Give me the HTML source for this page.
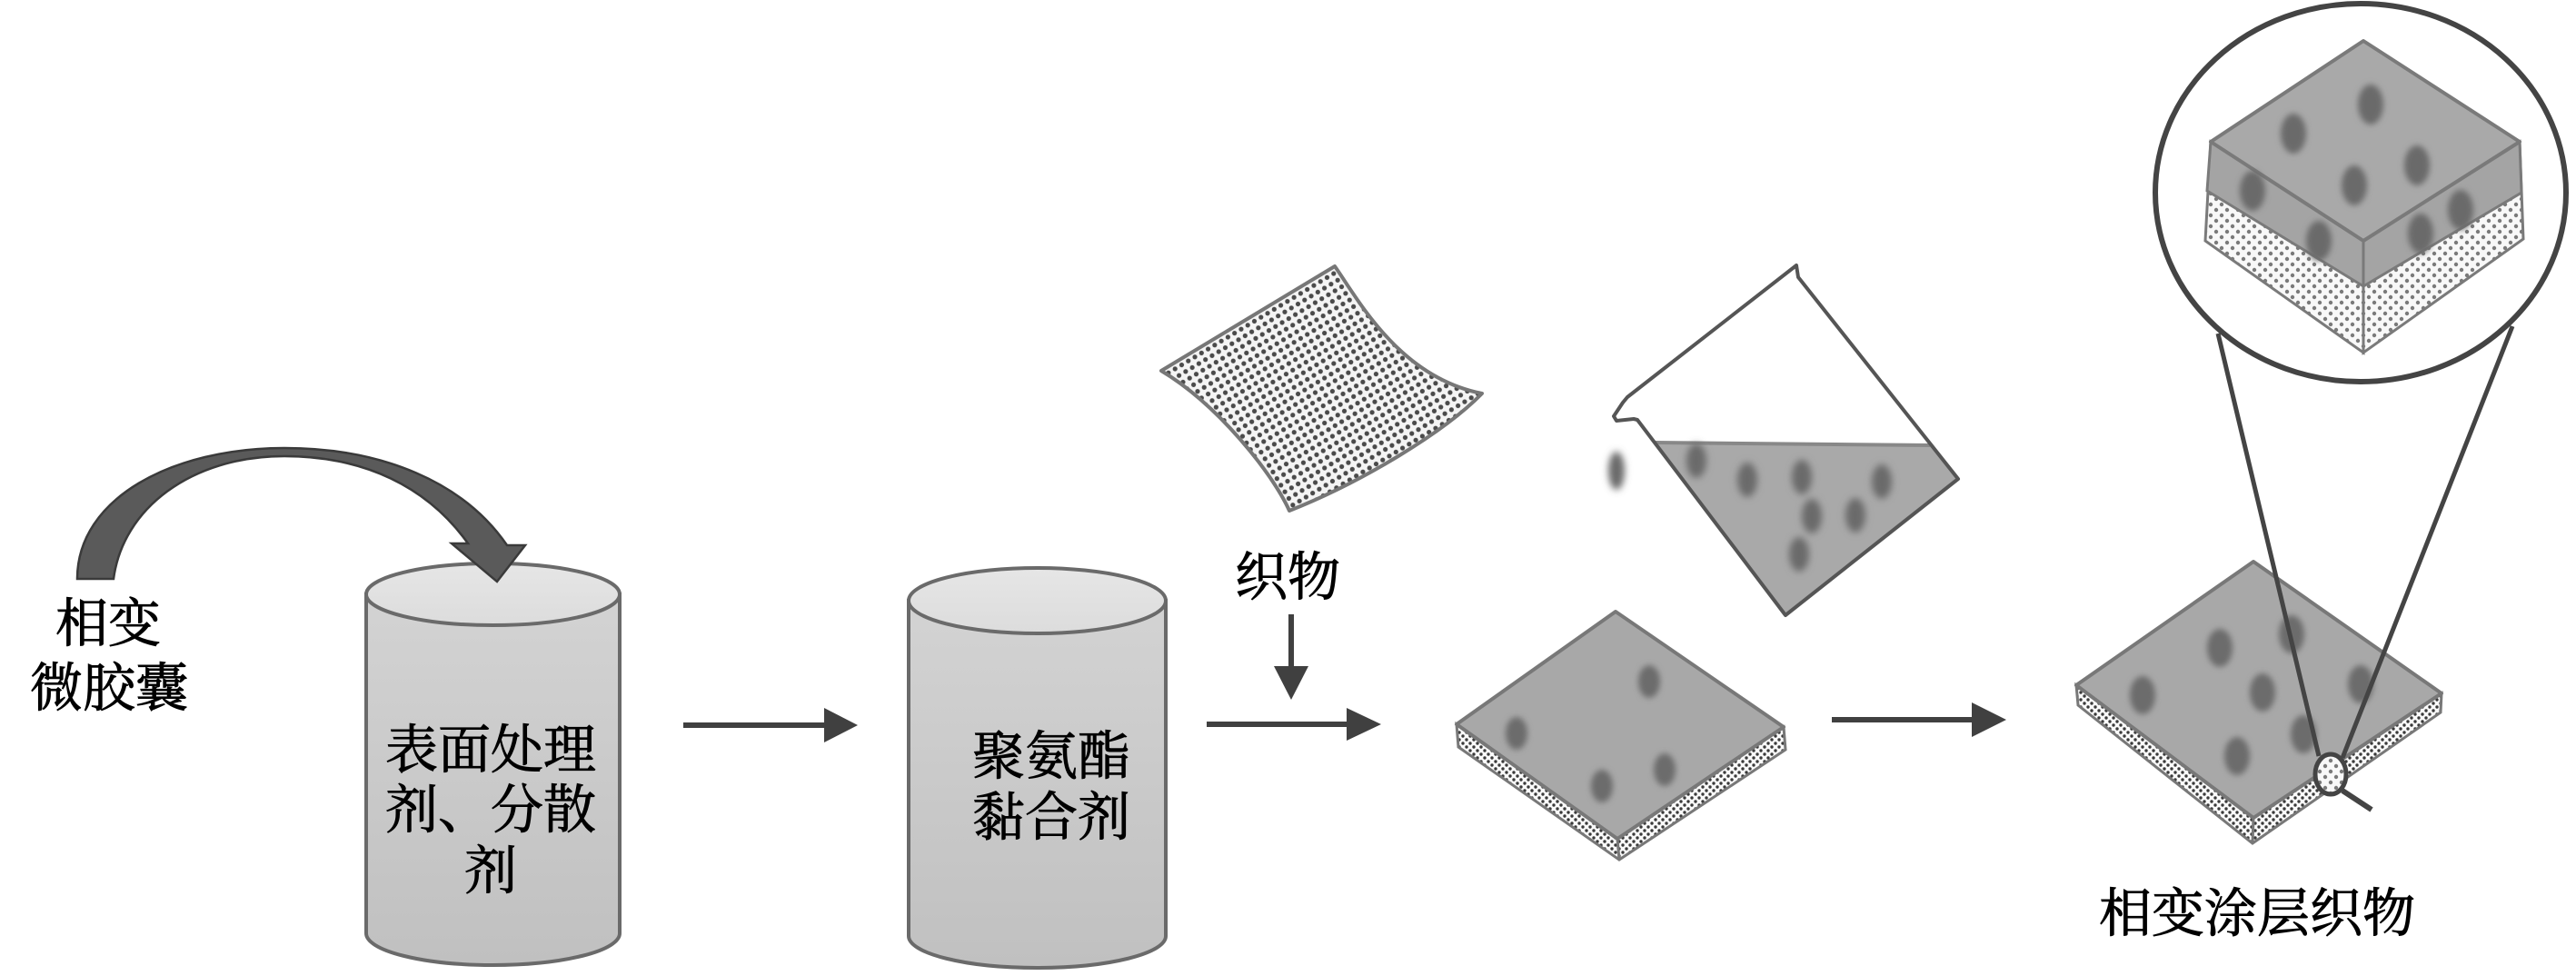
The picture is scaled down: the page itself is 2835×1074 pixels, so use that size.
<!DOCTYPE html>
<html>
<head>
<meta charset="utf-8">
<style>
  html,body{margin:0;padding:0;background:#fff;}
  svg{display:block;}
  text{font-family:"Liberation Serif","Noto Serif CJK SC","Noto Sans CJK SC",serif;font-size:58px;fill:#000;stroke:#000;stroke-width:0.9px;text-anchor:middle;}
</style>
</head>
<body>
<svg width="2835" height="1074" viewBox="0 0 2835 1074" xmlns="http://www.w3.org/2000/svg">
  <defs>
    <linearGradient id="cylBody" x1="0" y1="0" x2="0" y2="1">
      <stop offset="0" stop-color="#d3d3d3"/>
      <stop offset="1" stop-color="#c0c0c0"/>
    </linearGradient>
    <linearGradient id="cylTop" x1="0" y1="0" x2="0" y2="1">
      <stop offset="0" stop-color="#e6e6e6"/>
      <stop offset="1" stop-color="#dcdcdc"/>
    </linearGradient>
    <pattern id="dots" width="12" height="12" patternUnits="userSpaceOnUse" patternTransform="rotate(14)">
      <rect width="12" height="12" fill="#f4f4f4"/>
      <circle cx="3" cy="3" r="2.6" fill="#4a4a4a"/>
      <circle cx="9" cy="9" r="2.6" fill="#4a4a4a"/>
    </pattern>
    <pattern id="dots2" width="8" height="8" patternUnits="userSpaceOnUse">
      <rect width="8" height="8" fill="#fafafa"/>
      <circle cx="2" cy="2" r="1.7" fill="#3a3a3a"/>
      <circle cx="6" cy="6" r="1.7" fill="#3a3a3a"/>
    </pattern>
    <pattern id="dots3" width="12" height="12" patternUnits="userSpaceOnUse">
      <rect width="12" height="12" fill="#f8f8f8"/>
      <circle cx="3" cy="3" r="2.2" fill="#7a7a7a"/>
      <circle cx="9" cy="9" r="2.2" fill="#7a7a7a"/>
    </pattern>
    <filter id="blur" x="-60%" y="-60%" width="220%" height="220%">
      <feGaussianBlur stdDeviation="3.2"/>
    </filter>
    <filter id="blur2" x="-60%" y="-60%" width="220%" height="220%">
      <feGaussianBlur stdDeviation="4"/>
    </filter>
  </defs>

  <!-- Cylinder 1 -->
  <path d="M403,654 L403,1027 A139.5,35 0 0 0 682,1027 L682,654 Z" fill="url(#cylBody)" stroke="#6a6a6a" stroke-width="4"/>
  <ellipse cx="542.5" cy="654" rx="139.5" ry="34" fill="url(#cylTop)" stroke="#6a6a6a" stroke-width="4"/>

  <!-- Curved arrow -->
  <path d="M85,637 C85,548 190,493 313,493 C420,493 510,530 558,600 L578,600 L547,640 L497,598 L515,598 C470,535 400,502 313,502 C210,502 135,560 125,637 Z" fill="#5a5a5a" stroke="#3a3a3a" stroke-width="2.5" stroke-linejoin="miter"/>

  <!-- Cylinder 2 -->
  <path d="M1000,661 L1000,1030 A141.5,35 0 0 0 1283,1030 L1283,661 Z" fill="url(#cylBody)" stroke="#6a6a6a" stroke-width="4"/>
  <ellipse cx="1141.5" cy="661" rx="141.5" ry="36" fill="url(#cylTop)" stroke="#6a6a6a" stroke-width="4"/>

  <!-- Labels -->
  <text x="119" y="706">相变</text>
  <text x="120" y="777">微胶囊</text>
  <text x="540" y="845">表面处理</text>
  <text x="540" y="911">剂、分散</text>
  <text x="540" y="978">剂</text>
  <text x="1157" y="852">聚氨酯</text>
  <text x="1157" y="919">黏合剂</text>
  <text x="1417" y="655">织物</text>
  <text x="2484" y="1025">相变涂层织物</text>

  <!-- Straight arrows -->
  <line x1="752" y1="798" x2="912" y2="798" stroke="#404040" stroke-width="6"/>
  <polygon points="907,779 944,798 907,817" fill="#404040"/>
  <line x1="1328" y1="797" x2="1487" y2="797" stroke="#404040" stroke-width="6"/>
  <polygon points="1482,779 1520,797 1482,815" fill="#404040"/>
  <line x1="1421" y1="676" x2="1421" y2="738" stroke="#404040" stroke-width="6"/>
  <polygon points="1402,733 1440,733 1421,770" fill="#404040"/>
  <line x1="2016" y1="792" x2="2175" y2="792" stroke="#404040" stroke-width="6"/>
  <polygon points="2170,773 2208,792 2170,811" fill="#404040"/>

  <!-- Fabric sheet -->
  <path d="M1278,408 L1469,293 C1495,330 1540,415 1631,433 C1590,475 1500,530 1419,562 C1400,520 1340,445 1278,408 Z" fill="url(#dots)" stroke="#777" stroke-width="4" stroke-linejoin="round"/>

  <!-- Beaker -->
  <polygon points="1822,487 2124,490 2155,527 1965,677" fill="#a9a9a9"/>
  <line x1="1822" y1="487" x2="2124" y2="490" stroke="#888" stroke-width="4"/>
  <g filter="url(#blur2)" fill="#6a6a6a">
    <ellipse cx="1867" cy="507" rx="11" ry="19"/>
    <ellipse cx="1923" cy="528" rx="11" ry="19"/>
    <ellipse cx="1983" cy="525" rx="11" ry="19"/>
    <ellipse cx="2071" cy="530" rx="11" ry="19"/>
    <ellipse cx="1994" cy="568" rx="11" ry="19"/>
    <ellipse cx="2042" cy="567" rx="11" ry="19"/>
    <ellipse cx="1980" cy="610" rx="11" ry="19"/>
    <ellipse cx="1779" cy="518" rx="9" ry="21"/>
  </g>
  <path d="M1802,462 L1798,461 L1779,463 L1776,458 L1786,443 L1791,437 L1977,292 L1979,305 L2155,527 L1965,677 Z" fill="none" stroke="#555" stroke-width="4" stroke-linejoin="round"/>

  <!-- Coated fabric 1 -->
  <polygon points="1603,797 1780,923 1963,800 1965,825 1782,946 1605,822" fill="url(#dots2)" stroke="#787878" stroke-width="3"/>
  <line x1="1780" y1="923" x2="1782" y2="946" stroke="#787878" stroke-width="3"/>
  <polygon points="1778,673 1963,800 1780,923 1603,797" fill="#a8a8a8" stroke="#787878" stroke-width="4" stroke-linejoin="round"/>
  <g filter="url(#blur)" fill="#6c6c6c">
    <ellipse cx="1669" cy="807" rx="12" ry="18"/>
    <ellipse cx="1815" cy="750" rx="12" ry="18"/>
    <ellipse cx="1763" cy="865" rx="12" ry="18"/>
    <ellipse cx="1832" cy="847" rx="12" ry="18"/>
  </g>

  <!-- Coated fabric 2 -->
  <polygon points="2285,754 2480,900 2687,763 2686,784 2479,928 2287,776" fill="url(#dots2)" stroke="#787878" stroke-width="3"/>
  <line x1="2480" y1="900" x2="2479" y2="928" stroke="#787878" stroke-width="3"/>
  <polygon points="2480,618 2687,763 2480,900 2285,754" fill="#a8a8a8" stroke="#787878" stroke-width="4" stroke-linejoin="round"/>
  <g filter="url(#blur)" fill="#6c6c6c">
    <ellipse cx="2443" cy="713" rx="14" ry="21"/>
    <ellipse cx="2522" cy="698" rx="14" ry="21"/>
    <ellipse cx="2358" cy="765" rx="14" ry="21"/>
    <ellipse cx="2490" cy="762" rx="14" ry="21"/>
    <ellipse cx="2598" cy="753" rx="14" ry="21"/>
    <ellipse cx="2462" cy="832" rx="14" ry="21"/>
    <ellipse cx="2535" cy="808" rx="14" ry="21"/>
  </g>

  <!-- Magnifier -->
  <ellipse cx="2565" cy="852" rx="17" ry="22" fill="url(#dots3)" stroke="#444" stroke-width="5"/>
  <line x1="2578" y1="870" x2="2610" y2="891" stroke="#444" stroke-width="6"/>
  <line x1="2441" y1="367" x2="2552" y2="832" stroke="#444" stroke-width="5"/>
  <line x1="2765" y1="359" x2="2578" y2="834" stroke="#444" stroke-width="5"/>

  <!-- Big circle with block -->
  <ellipse cx="2598" cy="212" rx="226" ry="208" fill="#fff" stroke="#444" stroke-width="6"/>
  <polygon points="2433,156 2601,265 2601,388 2427,265" fill="url(#dots3)" stroke="#7a7a7a" stroke-width="3"/>
  <polygon points="2773,156 2601,265 2601,388 2777,263" fill="url(#dots3)" stroke="#7a7a7a" stroke-width="3"/>
  <polygon points="2433,156 2601,265 2601,315 2429,210" fill="#a4a4a4" stroke="#7a7a7a" stroke-width="3"/>
  <polygon points="2773,156 2601,265 2601,315 2775,212" fill="#a4a4a4" stroke="#7a7a7a" stroke-width="3"/>
  <polygon points="2601,45 2773,156 2601,265 2433,156" fill="#a9a9a9" stroke="#7a7a7a" stroke-width="4" stroke-linejoin="round"/>
  <g filter="url(#blur)" fill="#6a6a6a">
    <ellipse cx="2524" cy="147" rx="14" ry="22"/>
    <ellipse cx="2609" cy="115" rx="14" ry="22"/>
    <ellipse cx="2660" cy="182" rx="14" ry="22"/>
    <ellipse cx="2591" cy="204" rx="14" ry="22"/>
    <ellipse cx="2479" cy="210" rx="14" ry="22"/>
    <ellipse cx="2552" cy="265" rx="14" ry="22"/>
    <ellipse cx="2664" cy="257" rx="14" ry="22"/>
    <ellipse cx="2708" cy="231" rx="14" ry="22"/>
  </g>
</svg>
</body>
</html>
